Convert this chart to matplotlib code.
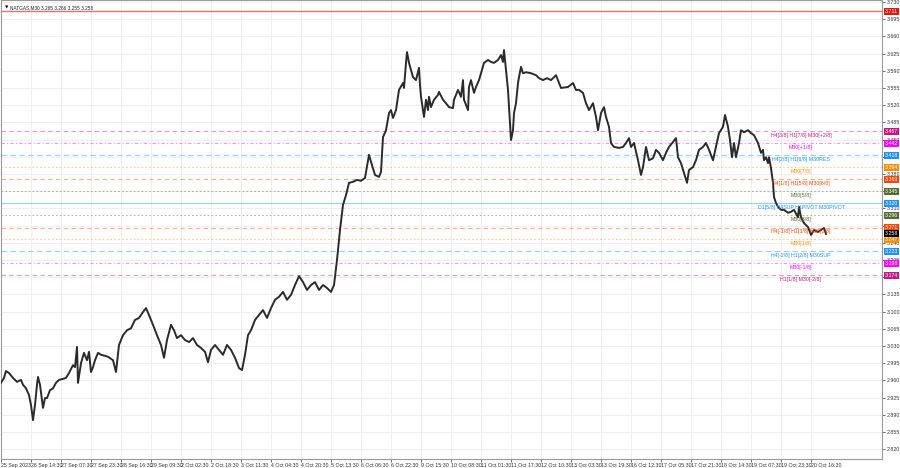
import matplotlib.pyplot as plt
import matplotlib.transforms as mtransforms
import numpy as np

plt.rcParams['font.family'] = ['Liberation Sans', 'DejaVu Sans']

# bar position (chart bars) and close price
bar = [0, 3, 5, 8, 12, 16, 20, 22, 25, 28, 30, 32, 34, 36, 37, 39, 42, 44, 46, 49,
       52, 55, 58, 62, 65, 68, 72, 74, 76, 77, 80, 83, 86, 88, 90, 92, 94, 97, 100, 104,
       107, 112, 115, 118, 122, 126, 130, 134, 138, 142, 145, 148, 152, 156, 160, 163, 166, 170, 173, 176,
       180, 184, 188, 192, 196, 200, 204, 207, 210, 214, 218, 222, 226, 230, 234, 238, 241, 244, 247, 250,
       254, 258, 262, 266, 270, 274, 278, 282, 286, 290, 294, 298, 302, 306, 310, 314, 318, 322, 326, 330,
       333, 336, 339, 342, 345, 348, 352, 356, 360, 364, 368, 371, 374, 378, 380, 382, 385, 388, 390, 392,
       395, 397, 398, 402, 403, 405, 406, 408, 412, 415, 418, 419, 420, 423, 425, 427, 428, 430, 433, 437,
       438, 442, 445, 448, 452, 453, 457, 460, 462, 463, 467, 468, 470, 473, 475, 478, 480, 483, 487, 490,
       493, 497, 500, 502, 503, 505, 507, 508, 510, 512, 513, 515, 517, 518, 520, 522, 525, 530, 535, 538,
       542, 546, 550, 555, 560, 567, 572, 575, 578, 582, 585, 588, 592, 595, 597, 600, 603, 605, 608, 610,
       613, 618, 622, 625, 628, 630, 633, 637, 640, 642, 645, 648, 652, 655, 658, 662, 665, 668, 672, 675,
       677, 680, 683, 686, 688, 692, 695, 698, 702, 705, 708, 712, 715, 718, 722, 724, 727, 729, 731, 733,
       735, 738, 740, 743, 747, 750, 753, 757, 760, 762, 763, 765, 767, 768, 770, 772, 773, 775, 777, 780,
       783, 787, 790, 793, 797, 798, 800, 803, 807, 810, 813, 817, 820, 823, 825]
close = [2.955, 2.965, 2.979, 2.975, 2.965, 2.957, 2.961, 2.951, 2.944, 2.930, 2.910, 2.879, 2.910, 2.951, 2.967, 2.951, 2.904, 2.924, 2.924, 2.940,
         2.944, 2.955, 2.961, 2.963, 2.965, 2.975, 2.991, 2.987, 3.028, 2.955, 2.995, 3.016, 3.001, 3.018, 2.977, 2.987, 3.001, 3.016, 3.012, 3.010,
         3.008, 3.001, 2.977, 3.032, 3.052, 3.062, 3.066, 3.083, 3.087, 3.099, 3.107, 3.093, 3.073, 3.052, 3.032, 3.006, 3.042, 3.073, 3.062, 3.046,
         3.052, 3.042, 3.038, 3.046, 3.032, 3.026, 3.018, 2.997, 3.022, 3.032, 3.022, 3.012, 3.032, 3.022, 3.006, 2.985, 2.981, 3.012, 3.052, 3.062,
         3.083, 3.093, 3.103, 3.087, 3.107, 3.124, 3.130, 3.140, 3.124, 3.134, 3.154, 3.172, 3.160, 3.144, 3.154, 3.160, 3.144, 3.154, 3.148, 3.140,
         3.154, 3.205, 3.266, 3.317, 3.337, 3.362, 3.364, 3.368, 3.366, 3.372, 3.419, 3.398, 3.378, 3.374, 3.384, 3.455, 3.469, 3.504, 3.510, 3.494,
         3.510, 3.537, 3.551, 3.565, 3.555, 3.606, 3.628, 3.606, 3.577, 3.571, 3.596, 3.561, 3.537, 3.496, 3.531, 3.510, 3.537, 3.516, 3.531, 3.541,
         3.547, 3.531, 3.524, 3.516, 3.514, 3.531, 3.551, 3.537, 3.571, 3.531, 3.510, 3.557, 3.571, 3.545, 3.557, 3.571, 3.585, 3.606, 3.612, 3.608,
         3.606, 3.612, 3.622, 3.608, 3.632, 3.592, 3.551, 3.516, 3.449, 3.469, 3.504, 3.524, 3.565, 3.577, 3.598, 3.585, 3.587, 3.585, 3.581, 3.575,
         3.571, 3.575, 3.571, 3.581, 3.555, 3.557, 3.565, 3.551, 3.551, 3.545, 3.524, 3.510, 3.524, 3.496, 3.469, 3.504, 3.516, 3.496, 3.476, 3.443,
         3.435, 3.433, 3.435, 3.443, 3.453, 3.435, 3.443, 3.408, 3.378, 3.394, 3.435, 3.408, 3.412, 3.429, 3.423, 3.408, 3.423, 3.435, 3.445, 3.453,
         3.414, 3.402, 3.382, 3.362, 3.388, 3.394, 3.408, 3.429, 3.435, 3.443, 3.429, 3.408, 3.435, 3.463, 3.476, 3.500, 3.476, 3.449, 3.414, 3.443,
         3.414, 3.443, 3.469, 3.465, 3.469, 3.463, 3.459, 3.443, 3.423, 3.429, 3.408, 3.414, 3.402, 3.414, 3.392, 3.362, 3.333, 3.321, 3.313, 3.307,
         3.307, 3.301, 3.303, 3.307, 3.292, 3.313, 3.292, 3.280, 3.272, 3.256, 3.266, 3.262, 3.266, 3.270, 3.258]

time_labels = ["25 Sep 2023", "26 Sep 14:30", "27 Sep 07:30", "27 Sep 23:30", "28 Sep 16:30",
               "29 Sep 09:30", "2 Oct 02:30", "2 Oct 18:30", "3 Oct 11:30", "4 Oct 04:30",
               "4 Oct 20:30", "5 Oct 13:30", "6 Oct 06:30", "6 Oct 22:30", "9 Oct 15:30",
               "10 Oct 08:30", "11 Oct 01:30", "11 Oct 17:30", "12 Oct 10:30", "13 Oct 03:30",
               "13 Oct 19:30", "16 Oct 12:30", "17 Oct 05:30", "17 Oct 21:30", "18 Oct 14:30",
               "19 Oct 07:30", "19 Oct 23:30", "20 Oct 16:30"]

# Murrey math levels
level_price = [3.467, 3.442, 3.418, 3.394, 3.369, 3.345, 3.320, 3.296, 3.271, 3.247, 3.223, 3.198, 3.174]
level_text = ["H4[3/8] H1[7/8] M30[+2/8]", "M30[+1/8]", "H4[2/8] H1[6/8] M30RES", "M30[7/8]",
              "H4[1/8] H1[5/8] M30[6/8]", "M30[5/8]", "D1[5/8] H4SUP H1PIVOT M30PIVOT", "M30[3/8]",
              "H4[-1/8] H1[3/8] M30[2/8]", "M30[1/8]", "H4[-2/8] H1[2/8] M30SUP", "M30[-1/8]",
              "H1[1/8] M30[-2/8]"]
level_color = ["#c71585", "#ff00ff", "#1e90ff", "#ff8c00", "#ff4500", "#556b2f", "#1e90ff",
               "#556b2f", "#ff4500", "#ff8c00", "#1e90ff", "#ff00ff", "#c71585"]
level_style = [(0, (4, 3)), (0, (3, 2, 1, 2)), (0, (5, 3)), (0, (1.5, 2)), (0, (4, 3)), (0, (1.5, 2)), "-",
               (0, (1.5, 2)), (0, (4, 3)), (0, (1.5, 2)), (0, (5, 3)), (0, (3, 2, 1, 2)), (0, (4, 3))]

red_line = 3.711
last_price = 3.258
title = "NATGAS,M30 3.265 3.266 3.255 3.258"

fig = plt.figure(figsize=(9, 4.68), dpi=100)
ax = fig.add_axes([1 / 900, 9 / 468, 881 / 900, 459 / 468])
ax.set_xlim(0, 881)
ax.set_ylim(2.800, 3.734)

fs = 3.8
yt = np.round(np.arange(2.820, 3.7301, 0.035), 3)
ax.set_yticks(yt)
ax.set_yticklabels([f"{v:.3f}" for v in yt])
ax.yaxis.tick_right()
xt = np.arange(len(time_labels)) * 30
ax.set_xticks(xt)
ax.set_xticklabels(time_labels, ha="left")
ax.tick_params(axis="both", labelsize=fs, colors="#333333", length=2, width=0.5, pad=1.5)
ax.tick_params(axis="x", pad=1)
ax.grid(True, color="#ebebeb", lw=0.6)
ax.set_axisbelow(True)
for s in ax.spines.values():
    s.set_color("#9a9a9a")
    s.set_linewidth(0.8)

ax.axhline(red_line, color="#f07070", lw=1.0)

for p, t, c, ls in zip(level_price, level_text, level_color, level_style):
    ax.axhline(p, color=c, lw=0.8, ls=ls, alpha=0.45)
    ax.text(800, p - 0.003, t, color=c, fontsize=fs, ha="center", va="top", zorder=4)

ax.plot(bar, close, color="#2a2a2a", lw=1.4, zorder=3)

trans = mtransforms.blended_transform_factory(ax.transAxes, ax.transData)
boxes = [(red_line, "#e3170a")] + list(zip(level_price, level_color)) + [(last_price, "#000000")]
for p, c in boxes:
    ax.text(1.003, p, f"{p:.3f}", transform=trans, fontsize=fs, color="white", ha="left", va="center",
            bbox=dict(boxstyle="square,pad=0.2", fc=c, ec="none"), zorder=6, clip_on=False)

ax.text(0.004, 0.988, "\u25bc", transform=ax.transAxes, fontsize=3.2, ha="left", va="top",
        family="DejaVu Sans")
ax.text(0.010, 0.988, title, transform=ax.transAxes, fontsize=3.4, ha="left", va="top", color="#222222")

fig.savefig("out.png", dpi=100)
